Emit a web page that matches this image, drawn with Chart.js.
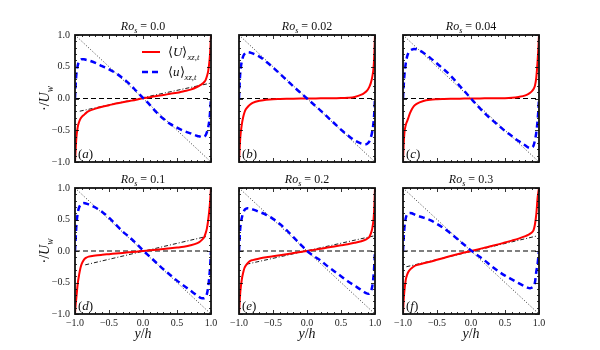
<!DOCTYPE html>
<html><head><meta charset="utf-8">
<script src="https://cdn.jsdelivr.net/npm/chart.js@4.4.1/dist/chart.umd.min.js"></script>
<style>html,body{margin:0;padding:0;background:#fff;}#wrap{position:relative;width:600px;height:350px;}canvas{position:absolute;left:0;top:0;}</style>
</head><body><div id="wrap"></div>
<script>
// ---------- data ----------
const yPos = [-1,-0.99,-0.98,-0.96,-0.94,-0.92,-0.9,-0.87,-0.84,-0.8,-0.7,-0.6,-0.5,-0.4,-0.3,-0.2,-0.1,0,0.1,0.2,0.3,0.4,0.5,0.6,0.7,0.8,0.84,0.87,0.9,0.92,0.94,0.96,0.98,0.99,1];
const rosValues = ['0.0','0.02','0.04','0.1','0.2','0.3'];
const panelLetters = ['a','b','c','d','e','f'];

// mean streamwise velocity <U>_{xz,t}
const U_a = [-1,-0.8,-0.62,-0.45,-0.37,-0.32,-0.29,-0.26,-0.23,-0.2,-0.16,-0.13,-0.105,-0.08,-0.06,-0.04,-0.02,0.005,0.02,0.04,0.055,0.075,0.09,0.115,0.14,0.185,0.21,0.23,0.26,0.29,0.35,0.44,0.62,0.78,1];
const U_b = [-1,-0.78,-0.6,-0.42,-0.3,-0.22,-0.17,-0.13,-0.1,-0.07,-0.035,-0.02,-0.01,-0.006,-0.003,-0.002,-0.001,0,0.001,0.002,0.002,0.004,0.006,0.012,0.025,0.06,0.085,0.11,0.15,0.19,0.25,0.34,0.5,0.7,1];
const U_c = [-1,-0.72,-0.55,-0.42,-0.36,-0.3,-0.24,-0.17,-0.12,-0.085,-0.04,-0.02,-0.012,-0.008,-0.005,-0.003,-0.001,0,0.001,0.002,0.002,0.003,0.004,0.01,0.025,0.05,0.07,0.09,0.12,0.15,0.2,0.33,0.6,0.78,1];
const U_d = [-1,-0.85,-0.74,-0.52,-0.38,-0.27,-0.2,-0.14,-0.11,-0.09,-0.072,-0.06,-0.05,-0.04,-0.03,-0.02,-0.01,0,0.01,0.02,0.03,0.042,0.054,0.068,0.09,0.125,0.15,0.18,0.22,0.28,0.36,0.5,0.7,0.84,1];
const U_e = [-1,-0.8,-0.64,-0.46,-0.35,-0.27,-0.23,-0.19,-0.16,-0.145,-0.12,-0.1,-0.085,-0.068,-0.05,-0.033,-0.016,0,0.018,0.036,0.054,0.072,0.09,0.108,0.13,0.155,0.17,0.185,0.205,0.23,0.28,0.36,0.52,0.7,1];
const U_f = [-1,-0.78,-0.64,-0.46,-0.38,-0.33,-0.3,-0.27,-0.245,-0.225,-0.195,-0.17,-0.14,-0.11,-0.08,-0.052,-0.025,0,0.026,0.052,0.078,0.105,0.135,0.165,0.197,0.235,0.255,0.275,0.3,0.33,0.42,0.58,0.85,0.93,1];

// rotating-frame velocity <u>_{xz,t}
const u_a = [0,0.22,0.38,0.52,0.58,0.61,0.62,0.62,0.61,0.6,0.56,0.51,0.46,0.4,0.32,0.23,0.12,0.01,-0.1,-0.22,-0.32,-0.4,-0.46,-0.51,-0.55,-0.59,-0.6,-0.61,-0.6,-0.58,-0.53,-0.45,-0.3,-0.16,0];
const u_b = [0,0.25,0.42,0.58,0.66,0.7,0.72,0.73,0.725,0.71,0.66,0.58,0.49,0.39,0.29,0.19,0.095,0,-0.095,-0.19,-0.29,-0.39,-0.49,-0.58,-0.66,-0.71,-0.72,-0.72,-0.7,-0.67,-0.61,-0.52,-0.36,-0.22,0];
const u_c = [0,0.2,0.36,0.55,0.66,0.72,0.75,0.77,0.78,0.775,0.72,0.64,0.55,0.46,0.36,0.24,0.12,0,-0.12,-0.23,-0.33,-0.42,-0.51,-0.59,-0.67,-0.74,-0.77,-0.78,-0.77,-0.74,-0.66,-0.54,-0.34,-0.2,0];
const u_d = [0,0.2,0.4,0.6,0.69,0.73,0.75,0.76,0.755,0.74,0.69,0.62,0.53,0.42,0.31,0.22,0.12,0.01,-0.09,-0.19,-0.29,-0.38,-0.47,-0.55,-0.63,-0.71,-0.74,-0.75,-0.75,-0.73,-0.68,-0.56,-0.35,-0.2,0];
const u_e = [0,0.22,0.38,0.52,0.6,0.65,0.67,0.68,0.675,0.66,0.62,0.575,0.51,0.43,0.33,0.22,0.11,0,-0.08,-0.15,-0.24,-0.32,-0.4,-0.48,-0.55,-0.62,-0.65,-0.67,-0.68,-0.67,-0.64,-0.56,-0.38,-0.22,0];
const u_f = [0,0.2,0.36,0.52,0.58,0.6,0.605,0.6,0.585,0.565,0.53,0.49,0.43,0.36,0.28,0.19,0.1,0.01,-0.07,-0.15,-0.24,-0.32,-0.39,-0.45,-0.51,-0.565,-0.585,-0.59,-0.58,-0.56,-0.5,-0.33,-0.2,-0.1,0];

// linear core fits (dash-dot), endpoints
const fitX_a = [-0.93, 0.985], fitY_a = [-0.2, 0.24];
const fitX_d = [-0.85, 0.93],  fitY_d = [-0.22, 0.23];
const fitX_e = [-0.89, 0.985], fitY_e = [-0.21, 0.24];
const fitX_f = [-0.95, 0.975], fitY_f = [-0.25, 0.24];
// reference lines
const diagX = [-1, 1], diagY = [1, -1];
const zeroX = [-1, 1], zeroY = [0, 0];
// ticks
const majorTicks = [-1, -0.5, 0, 0.5, 1];
const minorTicks = [-0.9,-0.8,-0.7,-0.6,-0.4,-0.3,-0.2,-0.1,0.1,0.2,0.3,0.4,0.6,0.7,0.8,0.9];

const Useries = [U_a,U_b,U_c,U_d,U_e,U_f];
const useries = [u_a,u_b,u_c,u_d,u_e,u_f];
const fits = [[fitX_a,fitY_a],null,null,[fitX_d,fitY_d],[fitX_e,fitY_e],[fitX_f,fitY_f]];

// ---------- layout ----------
const colX = [[75,211],[239,375],[403,539]];
const rowY = [[35,162],[188,314]];
const FONT = '"Liberation Serif", "Times New Roman", serif';

const xy = (xs, ys) => xs.map((x,k)=>({x:x, y:ys[k]}));
const fmt = v => (v < 0 ? '\u2212' : '') + Math.abs(v).toFixed(1);

function fontOf(p, size){ const s = p.sub ? size*0.68 : size; return (p.it ? 'italic ' : '') + s.toFixed(1) + 'px ' + FONT; }
function richWidth(ctx, parts, size){ let w=0; for(const p of parts){ ctx.font=fontOf(p,size); w+=ctx.measureText(p.t).width; } return w; }
function drawRich(ctx, parts, x, y, size, align){
  const w = richWidth(ctx, parts, size);
  let cx = align==='center' ? x-w/2 : (align==='right' ? x-w : x);
  ctx.textAlign='left'; ctx.textBaseline='alphabetic';
  for(const p of parts){ ctx.font=fontOf(p,size); ctx.fillText(p.t, cx, y + (p.sub ? size*0.28 : 0)); cx += ctx.measureText(p.t).width; }
}

const wrap = document.getElementById('wrap');
for(let i=0;i<6;i++){
  const row = Math.floor(i/3), col = i%3;
  const [L,R] = colX[col], [T,B] = rowY[row];
  const showY = col===0, showX = row===1;
  const cv = document.createElement('canvas'); cv.width=600; cv.height=350; wrap.appendChild(cv);

  const datasets = [
    {label:'<u>', data: xy(yPos, useries[i]), borderColor:'#0000ff', borderWidth:2.5, borderDash:[6,4], cubicInterpolationMode:'monotone', order:0},
    {label:'<U>', data: xy(yPos, Useries[i]), borderColor:'#ff0000', borderWidth:2, cubicInterpolationMode:'monotone', order:1},
    {label:'zero', data: xy(zeroX, zeroY), borderColor:'#000', borderWidth:1.1, borderDash:[5,3], order:3},
    {label:'diag', data: xy(diagX, diagY), borderColor:'#000', borderWidth:0.8, borderDash:[1,2], order:4},
  ];
  if(fits[i]) datasets.push({label:'fit', data: xy(fits[i][0], fits[i][1]), borderColor:'#000', borderWidth:0.9, borderDash:[4,2,1,2], order:2});

  const deco = {
    id:'deco',
    afterDraw(chart){
      const ctx = chart.ctx, a = chart.chartArea, sx = chart.scales.x, sy = chart.scales.y;
      ctx.save();
      ctx.strokeStyle='#000'; ctx.lineWidth=0.8;
      const tick = (v, len) => {
        const px = Math.round(sx.getPixelForValue(v))+0.5, py = Math.round(sy.getPixelForValue(v))+0.5;
        ctx.beginPath();
        ctx.moveTo(px, a.bottom); ctx.lineTo(px, a.bottom-len);
        ctx.moveTo(px, a.top); ctx.lineTo(px, a.top+len);
        ctx.moveTo(a.left, py); ctx.lineTo(a.left+len, py);
        ctx.moveTo(a.right, py); ctx.lineTo(a.right-len, py);
        ctx.stroke();
      };
      majorTicks.forEach(v=>tick(v,4));
      minorTicks.forEach(v=>tick(v,2));
      ctx.lineWidth=1.8; ctx.strokeStyle='#111';
      ctx.strokeRect(a.left, a.top, a.right-a.left, a.bottom-a.top);
      ctx.fillStyle='#111';
      const cxm = (a.left+a.right)/2;
      // title
      drawRich(ctx, [{t:'Ro',it:true},{t:'s',it:true,sub:true},{t:' = '+rosValues[i]}], cxm, a.top-5, 12, 'center');
      // panel letter
      drawRich(ctx, [{t:'('},{t:panelLetters[i],it:true},{t:')'}], a.left+3, a.bottom-4, 13, 'left');
      if(showY){
        ctx.save(); ctx.translate(a.left-26, (a.top+a.bottom)/2); ctx.rotate(-Math.PI/2);
        drawRich(ctx, [{t:'\u00b7/'},{t:'U',it:true},{t:'w',it:true,sub:true}], 0, 0, 14, 'center');
        ctx.restore();
      }
      if(showX){
        drawRich(ctx, [{t:'y',it:true},{t:'/'},{t:'h',it:true}], cxm, 338, 14, 'center');
      }
      if(i===0){
        const ds = chart.data.datasets;
        const items = [[ds[1],'U'],[ds[0],'u']];
        items.forEach((it,k)=>{
          const yy = a.top + 17 + k*20;
          ctx.save(); ctx.strokeStyle=it[0].borderColor; ctx.lineWidth=it[0].borderWidth; ctx.setLineDash(it[0].borderDash||[]);
          ctx.beginPath(); ctx.moveTo(a.left+67, yy); ctx.lineTo(a.left+85, yy); ctx.stroke(); ctx.restore();
          drawRich(ctx, [{t:'\u27e8'},{t:it[1],it:true},{t:'\u27e9'},{t:'xz,t',it:true,sub:true}], a.left+93, yy+4, 13, 'left');
        });
      }
      ctx.restore();
    }
  };

  new Chart(cv, {
    type:'line',
    data:{datasets},
    options:{
      responsive:false, animation:false, events:[], devicePixelRatio:1,
      layout:{padding:{left: L-(showY?30:0), right: 600-R, top: T, bottom: 350-B-(showX?20:0)}},
      elements:{point:{radius:0}, line:{tension:0}},
      plugins:{legend:{display:false}, tooltip:{enabled:false}, title:{display:false}},
      scales:{
        x:{type:'linear', min:-1, max:1, grid:{display:false, drawTicks:false}, border:{display:false},
           ticks:{display:showX, stepSize:0.5, autoSkip:false, maxRotation:0, padding:3, color:'#222', font:{family:FONT, size:10}, callback:v=>fmt(v)},
           afterFit(s){ s.height = showX?20:0; }},
        y:{type:'linear', min:-1, max:1, grid:{display:false, drawTicks:false}, border:{display:false},
           ticks:{display:showY, stepSize:0.5, autoSkip:false, padding:5, color:'#222', font:{family:FONT, size:10}, callback:v=>fmt(v)},
           afterFit(s){ s.width = showY?30:0; }}
      }
    },
    plugins:[deco]
  });
}
</script></body></html>
